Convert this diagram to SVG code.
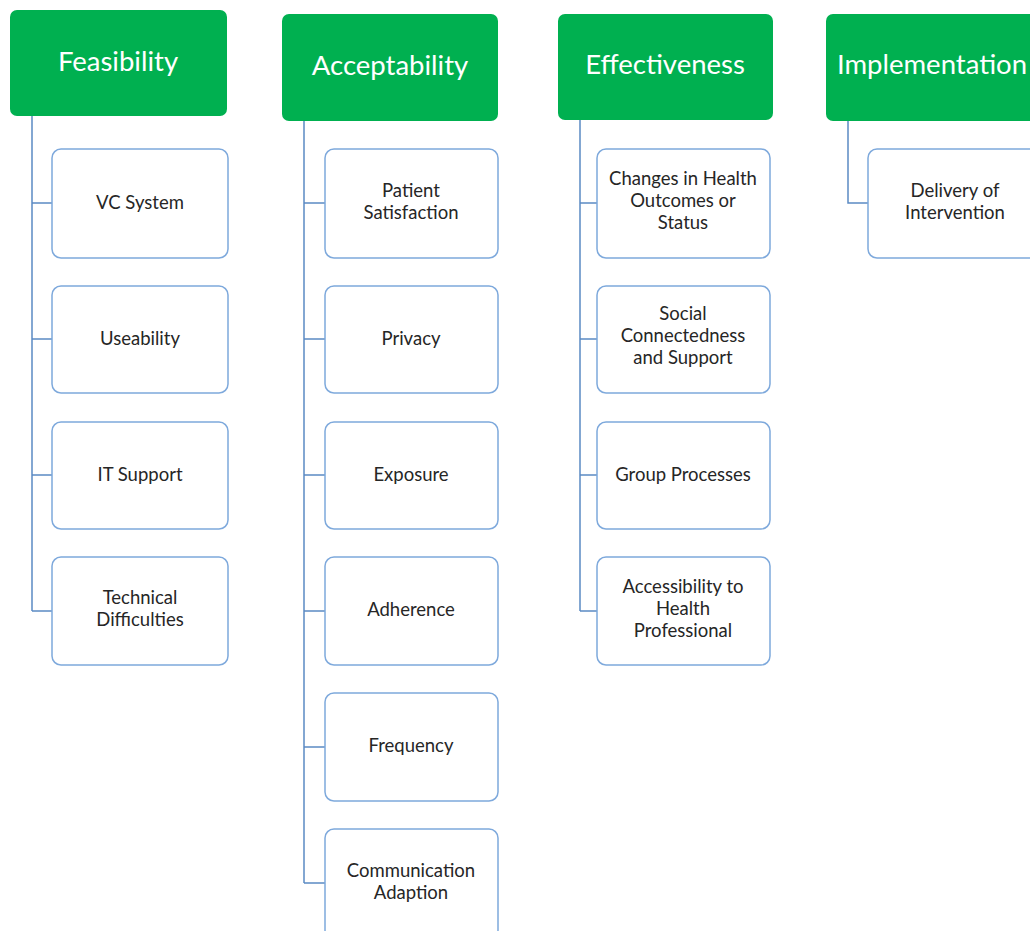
<svg xmlns="http://www.w3.org/2000/svg" width="1030" height="931" viewBox="0 0 1030 931">
<style>
.hdr{fill:#00B050;}
.ht{fill:#ffffff;font-family:Lato,"Liberation Sans",sans-serif;font-size:27.5px;text-anchor:middle;}
.box{fill:#ffffff;stroke:#7EA9DC;stroke-width:1.5;}
.bt{fill:#262626;font-family:Lato,"Liberation Sans",sans-serif;font-size:18.5px;text-anchor:middle;}
.con{fill:none;stroke:#5B8AC4;stroke-width:1.5;}
</style>
<rect width="1030" height="931" fill="#ffffff"/>
<g id="connectors">
<path class="con" d="M32 116V611M32 203H52M32 339H52M32 475H52M32 611H52"/>
<path class="con" d="M304 121V883M304 203H325M304 339H325M304 475H325M304 611H325M304 747H325M304 883H325"/>
<path class="con" d="M580 120V611M580 203H597M580 339H597M580 475H597M580 611H597"/>
<path class="con" d="M848 121V203H868"/>
</g>
<g id="feasibility"><rect class="hdr" x="10" y="10" width="217" height="106" rx="7"/><text class="ht" x="118" y="71">Feasibility</text></g>
<g id="acceptability"><rect class="hdr" x="282" y="14" width="216" height="107" rx="7"/><text class="ht" x="390" y="75">Acceptability</text></g>
<g id="effectiveness"><rect class="hdr" x="558" y="14" width="215" height="106" rx="7"/><text class="ht" x="665" y="74">Effectiveness</text></g>
<g id="implementation"><rect class="hdr" x="826" y="14" width="220" height="107" rx="7"/><text class="ht" x="932" y="74">Implementation</text></g>

<g id="vc-system"><rect class="box" x="52" y="149" width="176" height="109" rx="9"/><text class="bt" x="140" y="209">VC System</text></g>
<g id="useability"><rect class="box" x="52" y="286" width="176" height="107" rx="9"/><text class="bt" x="140" y="345">Useability</text></g>
<g id="it-support"><rect class="box" x="52" y="422" width="176" height="107" rx="9"/><text class="bt" x="140" y="481">IT Support</text></g>
<g id="technical-difficulties"><rect class="box" x="52" y="557" width="176" height="108" rx="9"/><text class="bt" x="140" y="604">Technical</text><text class="bt" x="140" y="626">Difficulties</text></g>

<g id="patient-satisfaction"><rect class="box" x="325" y="149" width="173" height="109" rx="9"/><text class="bt" x="411" y="197">Patient</text><text class="bt" x="411" y="219">Satisfaction</text></g>
<g id="privacy"><rect class="box" x="325" y="286" width="173" height="107" rx="9"/><text class="bt" x="411" y="345">Privacy</text></g>
<g id="exposure"><rect class="box" x="325" y="422" width="173" height="107" rx="9"/><text class="bt" x="411" y="481">Exposure</text></g>
<g id="adherence"><rect class="box" x="325" y="557" width="173" height="108" rx="9"/><text class="bt" x="411" y="616">Adherence</text></g>
<g id="frequency"><rect class="box" x="325" y="693" width="173" height="108" rx="9"/><text class="bt" x="411" y="752">Frequency</text></g>
<g id="communication-adaption"><rect class="box" x="325" y="829" width="173" height="110" rx="9"/><text class="bt" x="411" y="877">Communication</text><text class="bt" x="411" y="899">Adaption</text></g>

<g id="changes-in-health"><rect class="box" x="597" y="149" width="173" height="109" rx="9"/><text class="bt" x="683" y="185">Changes in Health</text><text class="bt" x="683" y="207">Outcomes or</text><text class="bt" x="683" y="229">Status</text></g>
<g id="social-connectedness"><rect class="box" x="597" y="286" width="173" height="107" rx="9"/><text class="bt" x="683" y="320">Social</text><text class="bt" x="683" y="342">Connectedness</text><text class="bt" x="683" y="364">and Support</text></g>
<g id="group-processes"><rect class="box" x="597" y="422" width="173" height="107" rx="9"/><text class="bt" x="683" y="481">Group Processes</text></g>
<g id="accessibility"><rect class="box" x="597" y="557" width="173" height="108" rx="9"/><text class="bt" x="683" y="593">Accessibility to</text><text class="bt" x="683" y="615">Health</text><text class="bt" x="683" y="637">Professional</text></g>

<g id="delivery-of-intervention"><rect class="box" x="868" y="149" width="175" height="109" rx="9"/><text class="bt" x="955" y="197">Delivery of</text><text class="bt" x="955" y="219">Intervention</text></g>
</svg>
